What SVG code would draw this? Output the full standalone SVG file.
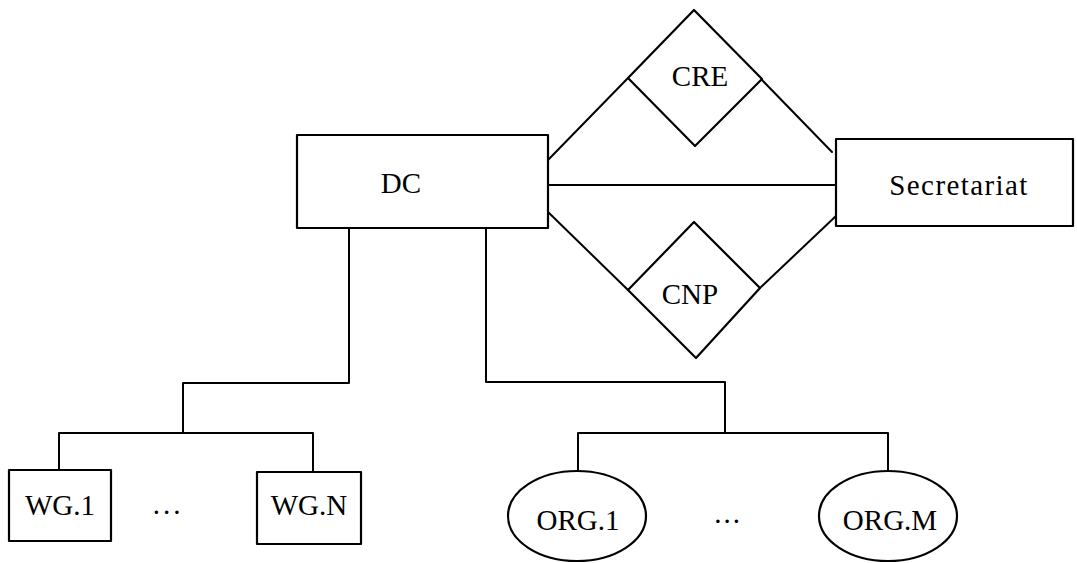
<svg xmlns="http://www.w3.org/2000/svg" width="1077" height="563" viewBox="0 0 1077 563">
<style>
.shape{fill:#fff;stroke:#000;stroke-width:2.2;stroke-linejoin:round}
.conn{fill:none;stroke:#000;stroke-width:2;stroke-linecap:round;stroke-linejoin:round}
.lbl{font-family:"Liberation Serif","DejaVu Serif",serif;font-size:29px;fill:#000;text-anchor:middle}
</style>
<rect width="1077" height="563" fill="#fff"/>
<g id="connectors" class="conn">
<line x1="548" y1="160" x2="628" y2="78"/>
<line x1="762" y1="80" x2="832" y2="152"/>
<line x1="548" y1="185" x2="836" y2="185"/>
<line x1="548" y1="212" x2="628" y2="290"/>
<line x1="760" y1="288" x2="836" y2="216"/>
<polyline points="349,228 349,383 183,383 183,433"/>
<polyline points="59,470 59,433 313,433 313,472"/>
<polyline points="486,228 486,382 725,382 725,433"/>
<polyline points="578,471 578,433 888,433 888,472"/>
</g>
<g id="DC"><rect class="shape" x="297" y="135" width="251" height="93"/><text class="lbl" x="401" y="193" font-size="31">DC</text></g>
<g id="Secretariat"><rect class="shape" x="836" y="139" width="237" height="87"/><text class="lbl" x="959" y="195" font-size="28" letter-spacing="1.4">Secretariat</text></g>
<g id="CRE"><polygon class="shape" points="694,10 762,79 695,146 628,78"/><text class="lbl" x="700" y="86" font-size="28">CRE</text></g>
<g id="CNP"><polygon class="shape" points="694,222 760,288 696,358 628,290"/><text class="lbl" x="690" y="304">CNP</text></g>
<g id="WG1"><rect class="shape" x="9" y="470" width="102" height="71"/><text class="lbl" x="60" y="515">WG.1</text></g>
<g id="WGN"><rect class="shape" x="257" y="472" width="104" height="72"/><text class="lbl" x="309" y="515">WG.N</text></g>
<g id="ORG1"><ellipse class="shape" cx="577" cy="516" rx="69" ry="45"/><text class="lbl" x="578" y="530">ORG.1</text></g>
<g id="ORGM"><ellipse class="shape" cx="888" cy="516" rx="69" ry="45"/><text class="lbl" x="890" y="530">ORG.M</text></g>
<g id="ellipsis">
<text class="lbl" x="168" y="514" letter-spacing="3">...</text>
<text class="lbl" x="728" y="523" letter-spacing="2">...</text>
</g>
</svg>
